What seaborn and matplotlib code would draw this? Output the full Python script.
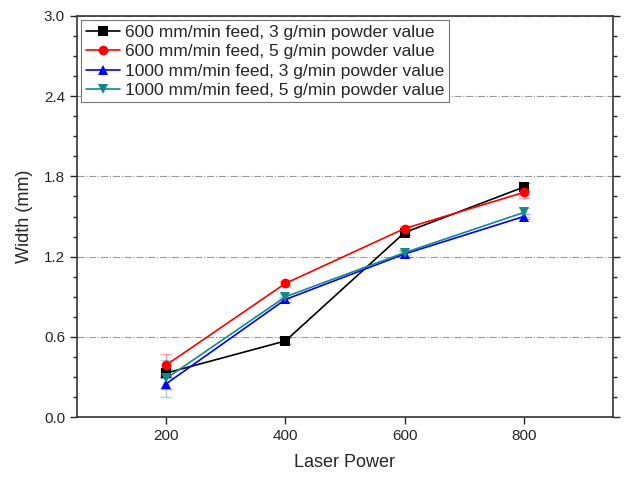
import pandas as pd
import matplotlib
matplotlib.use("Agg")
import matplotlib.pyplot as plt
import seaborn as sns
from matplotlib.ticker import MultipleLocator

# Bead width vs laser power
laser_power = [200, 400, 600, 800]
labels = [
    "600 mm/min feed, 3 g/min powder value",
    "600 mm/min feed, 5 g/min powder value",
    "1000 mm/min feed, 3 g/min powder value",
    "1000 mm/min feed, 5 g/min powder value",
]
width_600_3 = [0.33, 0.57, 1.38, 1.72]
width_600_5 = [0.39, 1.00, 1.41, 1.68]
width_1000_3 = [0.25, 0.88, 1.22, 1.50]
width_1000_5 = [0.29, 0.90, 1.23, 1.53]
err_600_3 = [0.03, 0.02, 0.02, 0.03]
err_600_5 = [0.08, 0.02, 0.02, 0.04]
err_1000_3 = [0.04, 0.02, 0.02, 0.02]
err_1000_5 = [0.14, 0.02, 0.02, 0.03]

widths = [width_600_3, width_600_5, width_1000_3, width_1000_5]
errors = [err_600_3, err_600_5, err_1000_3, err_1000_5]
colors = ["black", "red", "blue", "#138a87"]
markers = ["s", "o", "^", "v"]

# long-form table for seaborn
rows = []
for lab, w in zip(labels, widths):
    for p, v in zip(laser_power, w):
        rows.append({"Laser Power": p, "Width": v, "Condition": lab})
df = pd.DataFrame(rows)

sns.set_style("ticks")
plt.rcParams["font.family"] = ["Liberation Sans", "DejaVu Sans"]

fig = plt.figure(figsize=(6.25, 4.79), dpi=100)
ax = fig.add_axes([0.123, 0.129, 0.858, 0.838])

# error bars first, drawn lighter
for w, e, c in zip(widths, errors, colors):
    ax.errorbar(laser_power, w, yerr=e, fmt="none", ecolor=c, alpha=0.35,
                elinewidth=1, capsize=4, zorder=2)

sns.lineplot(data=df, x="Laser Power", y="Width", hue="Condition", style="Condition",
             palette=dict(zip(labels, colors)), markers=dict(zip(labels, markers)),
             dashes=False, markersize=7, markeredgewidth=0, linewidth=1.2, ax=ax, zorder=3)

ax.set_xlim(50, 950)
ax.set_ylim(0, 3.0)
ax.set_xticks(laser_power)
ax.yaxis.set_major_locator(MultipleLocator(0.6))
ax.yaxis.set_minor_locator(MultipleLocator(0.15))
ax.tick_params(axis="both", which="major", labelsize=11, direction="out", length=5, width=1)
ax.tick_params(axis="y", which="minor", direction="out", length=3, width=1)
ax.tick_params(axis="y", which="both", right=True)
ax.yaxis.grid(True, which="major", linestyle="-.", color="#9a9a9a", linewidth=0.8)
ax.set_axisbelow(True)
for s in ax.spines.values():
    s.set_linewidth(1.2)
    s.set_color("#333333")

ax.set_xlabel("Laser Power", fontsize=13, labelpad=8)
ax.set_ylabel("Width (mm)", fontsize=13, labelpad=8)

leg = ax.legend(loc="upper left", fontsize=12.5, handlelength=2.0, handletextpad=0.3,
                borderpad=0.25, labelspacing=0.25, borderaxespad=0.25, fancybox=False,
                framealpha=1, edgecolor="#777777", title=None)
leg.get_frame().set_linewidth(0.8)

fig.savefig("out.png", dpi=100)
